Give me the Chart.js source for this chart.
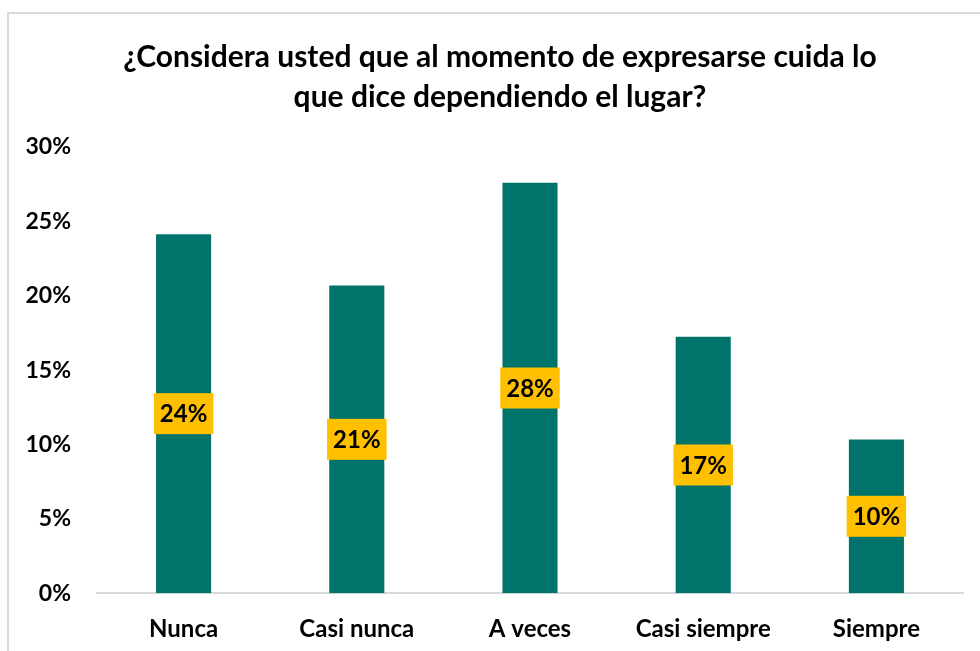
<!DOCTYPE html>
<html>
<head>
<meta charset="utf-8">
<script src="https://cdn.jsdelivr.net/npm/chart.js@4"></script>
<style>
  html, body { margin: 0; padding: 0; background: #fff; }
  #wrap { width: 980px; height: 651px; position: relative; }
</style>
</head>
<body>
<div id="wrap"><canvas id="chart" width="980" height="651"></canvas></div>
<script>
// --- données ---
const categories = ['Nunca', 'Casi nunca', 'A veces', 'Casi siempre', 'Siempre'];
const percentages = [24.14, 20.69, 27.59, 17.24, 10.34];
const titleLines = ['¿Considera usted que al momento de expresarse cuida lo', 'que dice dependiendo el lugar?'];
const yTicks = [0, 5, 10, 15, 20, 25, 30];

const FONT = 'Lato, "Open Sans", sans-serif';

// cadre gris (bord gauche et haut) + titre recentré
const framePlugin = {
  id: 'frame',
  afterLayout(chart) {
    if (chart.titleBlock) {
      chart.titleBlock.left = 37;
      chart.titleBlock.right = 963;
    }
  },
  beforeDraw(chart) {
    const ctx = chart.ctx;
    ctx.save();
    ctx.strokeStyle = '#d9d9d9';
    ctx.lineWidth = 2;
    ctx.beginPath();
    ctx.moveTo(8, 651);
    ctx.lineTo(8, 13);
    ctx.lineTo(980, 13);
    ctx.stroke();
    ctx.restore();
  }
};

// étiquettes jaunes au centre des barres
const labelPlugin = {
  id: 'barLabels',
  afterDatasetsDraw(chart) {
    const ctx = chart.ctx;
    const meta = chart.getDatasetMeta(0);
    ctx.save();
    ctx.font = 'bold 24px ' + FONT;
    ctx.textAlign = 'center';
    ctx.textBaseline = 'middle';
    meta.data.forEach((bar, i) => {
      const txt = Math.round(percentages[i]) + '%';
      const w = ctx.measureText(txt).width + 12;
      const h = 41;
      const cx = bar.x;
      const cy = (bar.y + bar.base) / 2;
      ctx.fillStyle = '#ffc000';
      ctx.fillRect(cx - w / 2, cy - h / 2, w, h);
      ctx.fillStyle = '#000';
      ctx.fillText(txt, cx, cy + 1);
    });
    ctx.restore();
  }
};

const ctx = document.getElementById('chart').getContext('2d');
new Chart(ctx, {
  type: 'bar',
  data: {
    labels: categories,
    datasets: [{
      data: percentages,
      backgroundColor: '#00736a',
      borderWidth: 0,
      barPercentage: 0.318,
      categoryPercentage: 1
    }]
  },
  options: {
    responsive: false,
    animation: false,
    layout: { padding: { left: 20, right: 17, top: 0, bottom: -15 } },
    plugins: {
      legend: { display: false },
      tooltip: { enabled: false },
      title: {
        display: true,
        text: titleLines,
        color: '#000',
        font: { family: FONT, size: 30, weight: 'bold', lineHeight: 1.333 },
        padding: { top: 37, bottom: 30 }
      }
    },
    scales: {
      x: {
        grid: { display: false, drawTicks: false },
        border: { display: true, color: '#d9d9d9', width: 2 },
        ticks: { color: '#000', padding: 22, font: { family: FONT, size: 24, weight: 'bold' } }
      },
      y: {
        min: 0,
        max: 30,
        grid: { display: false, drawTicks: false },
        border: { display: false },
        afterFit(scale) { scale.width = 77; },
        afterBuildTicks(scale) { scale.ticks = yTicks.map(v => ({ value: v })); },
        ticks: {
          color: '#000',
          padding: 26,
          font: { family: FONT, size: 23, weight: 'bold' },
          callback: v => v + '%'
        }
      }
    }
  },
  plugins: [framePlugin, labelPlugin]
});
</script>
</body>
</html>
